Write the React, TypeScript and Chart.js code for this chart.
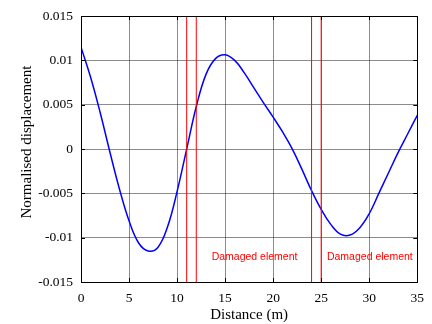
import { useEffect, useRef } from "react";
import { Chart, registerables } from "chart.js";

Chart.register(...registerables);

// ---- data ----
const distance = [0, 1, 2, 3, 4, 5, 6, 7, 8, 9, 10, 11, 12, 13, 14, 15, 16, 17, 18, 19, 20, 21, 22, 23, 24, 25, 26, 27, 28, 29, 30, 31, 32, 33, 34, 35];
const displacement = [
  0.0115, 0.0081, 0.0041, -0.0003, -0.0045, -0.0081, -0.0106, -0.0115, -0.0111, -0.0088,
  -0.0048, 0.0, 0.0048, 0.0084, 0.0102, 0.01064, 0.01, 0.0086, 0.0069, 0.0052,
  0.0036, 0.0019, 0.0, -0.0023, -0.0047, -0.0068, -0.0085, -0.0096, -0.0097, -0.0089,
  -0.0073, -0.005, -0.0027, -0.0004, 0.0017, 0.0038,
];
const damagedLines = [11, 12, 24, 25];
const damageLabels = ["Damaged element", "Damaged element"];
const damageLabelX = [13.6, 25.6];
const damageLabelY = [-0.01255, -0.01255];
const xTicks = [0, 5, 10, 15, 20, 25, 30, 35];
const xTickLabels = ["0", "5", "10", "15", "20", "25", "30", "35"];
const yTicks = [-0.015, -0.01, -0.005, 0, 0.005, 0.01, 0.015];
const yTickLabels = ["-0.015", "-0.01", "-0.005", "0", "0.005", "0.01", "0.015"];
const xTitle = "Distance (m)";
const yTitle = "Normalised displacement";

const SERIF = '"Liberation Serif", "Times New Roman", serif';
const SANS = '"Liberation Sans", Arial, sans-serif';

const boxPlugin = {
  id: "boxPlugin",
  afterDatasetsDraw(chart: any) {
    const { ctx, chartArea, scales } = chart;
    const { left, right, top, bottom } = chartArea;
    ctx.save();
    // damage labels
    ctx.fillStyle = "#ff0000";
    ctx.font = `10.5px ${SANS}`;
    ctx.textAlign = "left";
    ctx.textBaseline = "alphabetic";
    damageLabels.forEach((t, i) => {
      ctx.fillText(t, scales.x.getPixelForValue(damageLabelX[i]), scales.y.getPixelForValue(damageLabelY[i]));
    });
    // inner ticks
    ctx.strokeStyle = "#000";
    ctx.lineWidth = 1;
    const tl = 4;
    ctx.beginPath();
    xTicks.forEach((v) => {
      const px = Math.round(scales.x.getPixelForValue(v)) + 0.5;
      ctx.moveTo(px, bottom);
      ctx.lineTo(px, bottom - tl);
      ctx.moveTo(px, top);
      ctx.lineTo(px, top + tl);
    });
    yTicks.forEach((v) => {
      const py = Math.round(scales.y.getPixelForValue(v)) + 0.5;
      ctx.moveTo(left, py);
      ctx.lineTo(left + tl, py);
      ctx.moveTo(right, py);
      ctx.lineTo(right - tl, py);
    });
    ctx.stroke();
    // box
    ctx.strokeRect(Math.round(left) + 0.5, Math.round(top) + 0.5, Math.round(right - left), Math.round(bottom - top));
    // y title (slightly above the plot centre, as in the original)
    ctx.fillStyle = "#000";
    ctx.font = `15px ${SERIF}`;
    ctx.textAlign = "center";
    ctx.textBaseline = "middle";
    ctx.translate(27, (top + bottom) / 2 - 7);
    ctx.rotate(-Math.PI / 2);
    ctx.fillText(yTitle, 0, 0);
    ctx.restore();
  },
};

export default function App() {
  const ref = useRef<HTMLCanvasElement | null>(null);

  useEffect(() => {
    if (!ref.current) return;
    const redSets = damagedLines.map((x) => ({
      data: [
        { x, y: yTicks[0] },
        { x, y: yTicks[yTicks.length - 1] },
      ],
      borderColor: "#ff0000",
      borderWidth: 1,
      pointRadius: 0,
      tension: 0,
      fill: false,
    }));
    const chart = new Chart(ref.current, {
      type: "line",
      data: {
        datasets: [
          ...redSets,
          {
            data: distance.map((x, i) => ({ x, y: displacement[i] })),
            borderColor: "#0000ff",
            borderWidth: 1.5,
            pointRadius: 0,
            tension: 0.4,
            fill: false,
          },
        ],
      },
      options: {
        responsive: false,
        animation: false,
        events: [],
        layout: { padding: { left: 0, top: 15, right: 13, bottom: 0 } },
        plugins: { legend: { display: false }, tooltip: { enabled: false } },
        scales: {
          x: {
            type: "linear",
            min: 0,
            max: 35,
            afterBuildTicks: (s: any) => {
              s.ticks = xTicks.map((value) => ({ value }));
            },
            afterFit: (s: any) => {
              s.height = 42;
            },
            ticks: {
              color: "#000",
              font: { family: SERIF, size: 13.5 },
              padding: 8,
              maxRotation: 0,
              autoSkip: false,
              callback: (_v: any, i: number) => xTickLabels[i],
            },
            grid: { color: "rgba(0,0,0,0.45)", lineWidth: 1, drawTicks: false },
            border: { display: false },
            title: {
              display: true,
              text: xTitle,
              color: "#000",
              font: { family: SERIF, size: 15 },
              padding: { top: 0, bottom: 0 },
            },
          },
          y: {
            type: "linear",
            min: -0.015,
            max: 0.015,
            afterBuildTicks: (s: any) => {
              s.ticks = yTicks.map((value) => ({ value }));
            },
            afterFit: (s: any) => {
              s.width = 81;
            },
            ticks: {
              color: "#000",
              font: { family: SERIF, size: 13.5 },
              padding: 8,
              autoSkip: false,
              callback: (_v: any, i: number) => yTickLabels[i],
            },
            grid: { color: "rgba(0,0,0,0.45)", lineWidth: 1, drawTicks: false },
            border: { display: false },
          },
        },
      },
      plugins: [boxPlugin],
    } as any);
    return () => chart.destroy();
  }, []);

  return (
    <div style={{ position: "absolute", left: 0, top: 0, width: 432, height: 324, background: "#fff" }}>
      <canvas ref={ref} width={432} height={324} style={{ display: "block" }} />
    </div>
  );
}
